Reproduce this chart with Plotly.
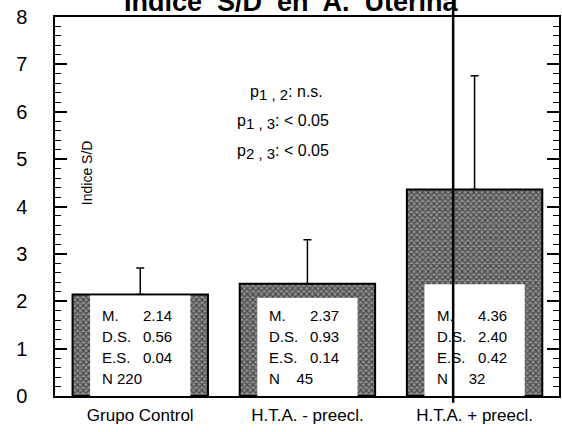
import plotly.graph_objects as go

# ---- data ----
categories = ["Grupo Control", "H.T.A. - preecl.", "H.T.A. + preecl."]
means = [2.14, 2.37, 4.36]          # M.
sds = [0.56, 0.93, 2.40]            # D.S.
ses = [0.04, 0.14, 0.42]            # E.S.
ns = [220, 45, 32]                  # N
box_tops = [2.12, 2.07, 2.36]       # top of the white text box inside each bar
n_pad = [1, 4, 5]
p_pairs = ["1 , 2", "1 , 3", "2 , 3"]
p_values = ["n.s.", "< 0.05", "< 0.05"]
y_ticks = list(range(0, 9))
title_text = "Indice  S/D  en  A.  Uterina"
y_label = "Indice S/D"

FONT = "Liberation Sans, Arial, Helvetica, sans-serif"
NB = "\u00a0"
x = list(range(len(categories)))

fig = go.Figure()
fig.add_bar(
    x=x, y=means, width=0.81,
    marker=dict(
        color="#777777",
        pattern=dict(shape="x", size=4, solidity=0.5, fgcolor="#000000", bgcolor="#8f8f8f"),
        line=dict(color="black", width=2),
    ),
    error_y=dict(type="data", symmetric=False, array=sds, arrayminus=[0] * len(sds),
                 thickness=1.5, width=4, color="black"),
    hoverinfo="skip",
)
fig.add_bar(
    x=x, y=box_tops, width=0.6,
    marker=dict(color="white", line=dict(width=0)),
    hoverinfo="skip",
)

annotations = []
# stats inside bars
for i in x:
    rows = [("M.", f"{means[i]:.2f}"), ("D.S.", f"{sds[i]:.2f}"), ("E.S.", f"{ses[i]:.2f}")]
    for k, (lab, val) in enumerate(rows):
        annotations.append(dict(x=i, y=0, xref="x", yref="y", xshift=-40, yshift=81 - 21 * k,
                                text=lab, showarrow=False, xanchor="left", yanchor="middle",
                                font=dict(family=FONT, size=15, color="black")))
        annotations.append(dict(x=i, y=0, xref="x", yref="y", xshift=34, yshift=81 - 21 * k,
                                text=val, showarrow=False, xanchor="right", yanchor="middle",
                                font=dict(family=FONT, size=15, color="black")))
    annotations.append(dict(x=i, y=0, xref="x", yref="y", xshift=-40, yshift=81 - 21 * 3,
                            text="N" + NB * n_pad[i] + str(ns[i]), showarrow=False,
                            xanchor="left", yanchor="middle",
                            font=dict(family=FONT, size=15, color="black")))

# p-values
p_x = [0.383, 0.357, 0.357]
p_y = [0.80, 0.723, 0.645]
for k in range(len(p_pairs)):
    annotations.append(dict(x=p_x[k], y=p_y[k], xref="paper", yref="paper",
                            text=f"p<sub><span style='font-size:15px'>{p_pairs[k]}</span></sub>: {p_values[k]}",
                            showarrow=False, xanchor="left", yanchor="middle",
                            font=dict(family=FONT, size=16, color="black")))

# y axis label inside plot
annotations.append(dict(x=0.065, y=0.59, xref="paper", yref="paper", text=y_label,
                        textangle=-90, showarrow=False, xanchor="center", yanchor="middle",
                        font=dict(family=FONT, size=14, color="black")))
# title (cut off at top)
annotations.append(dict(x=0.47, y=1, xref="paper", yref="paper", text=f"<b>{title_text}</b>",
                        showarrow=False, xanchor="center", yanchor="bottom", yshift=-2,
                        font=dict(family=FONT, size=27, color="black")))

fig.update_layout(
    width=562, height=432,
    margin=dict(l=55, r=3, t=17, b=36, autoexpand=False),
    paper_bgcolor="white", plot_bgcolor="white",
    barmode="overlay", showlegend=False,
    annotations=annotations,
    shapes=[dict(type="line", xref="paper", yref="paper", x0=0.79, x1=0.79, y0=-0.018, y1=1.06,
                 line=dict(color="black", width=2.5), layer="above")],
)
fig.update_xaxes(
    range=[-0.51, 2.505], tickvals=x, ticktext=categories, ticks="",
    showline=True, linecolor="black", linewidth=1.5, mirror=True, automargin=False,
    showgrid=False, zeroline=False, ticklabelstandoff=3,
    tickfont=dict(family=FONT, size=17, color="black"),
)
fig.update_yaxes(
    range=[0, 8], tickvals=y_ticks, ticks="inside", ticklen=12, tickwidth=1.5, tickcolor="black",
    minor=dict(dtick=0.2, ticks="inside", ticklen=6, tickwidth=1, tickcolor="black"),
    showline=True, linecolor="black", linewidth=1.5, mirror="ticks", automargin=False,
    showgrid=False, zeroline=False, ticklabelstandoff=22,
    tickfont=dict(family=FONT, size=20, color="black"),
)

fig.write_html("out.html", config={"displayModeBar": False},
               post_script="document.body.style.margin='0';document.body.style.overflow='hidden';")
